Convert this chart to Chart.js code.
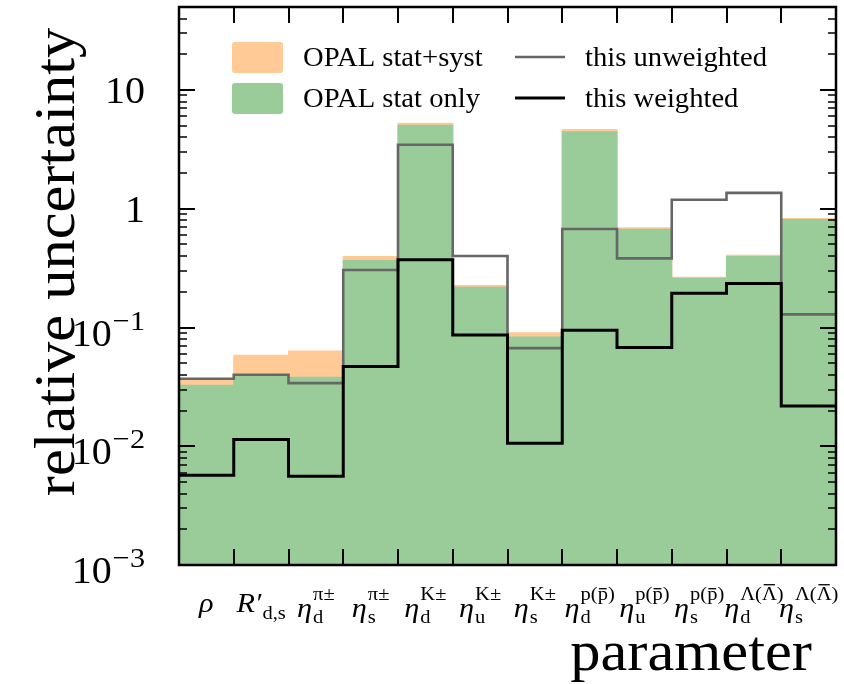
<!DOCTYPE html>
<html>
<head>
<meta charset="utf-8">
<title>relative uncertainty</title>
<script src="https://cdn.jsdelivr.net/npm/chart.js@4.4.1/dist/chart.umd.min.js"></script>
<style>
    html, body { margin: 0; padding: 0; background: #ffffff; }
    #wrap { width: 844px; height: 684px; }
</style>
</head>
<body>
<div id="wrap"><canvas id="uncChart" width="844" height="684"></canvas></div>
<script>
// 参数标签: 主符号 / 下标 / 上标
const paramBase = ['ρ', 'R′', 'η', 'η', 'η', 'η', 'η', 'η', 'η', 'η', 'η', 'η'];
const paramSub  = ['', 'd,s', 'd', 's', 'd', 'u', 's', 'd', 'u', 's', 'd', 's'];
const paramSup  = ['', '', 'π±', 'π±', 'K±', 'K±', 'K±', 'p(p̄)', 'p(p̄)', 'p(p̄)', 'Λ(Λ̄)', 'Λ(Λ̄)'];

// 相对不确定度
const opalStatSyst = [0.037, 0.059, 0.064, 0.40, 5.3, 0.228, 0.091, 4.7, 0.70, 0.268, 0.41, 0.835];
const opalStat     = [0.033, 0.0395, 0.0385, 0.37, 5.1, 0.22, 0.084, 4.5, 0.68, 0.262, 0.40, 0.82];
const unweighted   = [0.037, 0.040, 0.034, 0.305, 3.46, 0.40, 0.067, 0.675, 0.382, 1.19, 1.36, 0.129];
const weighted     = [0.0057, 0.0114, 0.0056, 0.047, 0.372, 0.0865, 0.0106, 0.095, 0.068, 0.194, 0.235, 0.0218];

// y 轴刻度
const yTickValues = [1e-3, 1e-2, 1e-1, 1, 10];
const yTickMant   = ['10', '10', '10', '1', '10'];
const yTickExp    = ['−3', '−2', '−1', '', ''];
const yMin = 1e-3;
const yMax = 50;

const SERIF = '"Liberation Serif", "DejaVu Serif", serif';
const SX = 1.08; // 字形横向拉宽一点
const MACRON = '\u0304';

function setFont(ctx, size, italic) {
    ctx.font = (italic ? 'italic ' : '') + size + 'px ' + SERIF;
}

function textWidth(ctx, str, size, italic) {
    if (!str) return 0;
    ctx.save();
    setFont(ctx, size, italic);
    const w = ctx.measureText(str.split(MACRON).join('')).width * SX;
    ctx.restore();
    return w;
}

function drawText(ctx, str, x, y, size, opts) {
    opts = opts || {};
    ctx.save();
    setFont(ctx, size, opts.italic);
    ctx.textAlign = opts.align || 'left';
    ctx.textBaseline = 'alphabetic';
    ctx.fillStyle = '#000000';
    ctx.translate(x, y);
    if (opts.rotate) ctx.rotate(opts.rotate);
    ctx.scale(SX, 1);
    ctx.fillText(str, 0, 0);
    ctx.restore();
}

// 逐字绘制, 带上划线的字符自己画横线 (组合字符渲染位置不稳)
function drawScript(ctx, str, x, y, size) {
    let cx = x;
    for (let i = 0; i < str.length; i++) {
        const ch = str[i];
        if (ch === MACRON) continue;
        const w = textWidth(ctx, ch, size);
        drawText(ctx, ch, cx, y, size);
        if (str[i + 1] === MACRON) {
            const h = /[A-ZΛ]/.test(ch) ? 0.68 : 0.47;
            ctx.fillStyle = '#000000';
            ctx.fillRect(cx + w * 0.12, y - size * h - 3, w * 0.76, 1.3);
        }
        cx += w;
    }
}

// 直方图柱: 每个 bin 中心
function binBars(values) {
    return values.map((v, i) => ({ x: i + 0.5, y: v }));
}

// 阶梯线: 每个 bin 左边界, 末尾补右边界
function binSteps(values) {
    const pts = values.map((v, i) => ({ x: i, y: v }));
    pts.push({ x: values.length, y: values[values.length - 1] });
    return pts;
}

// 边框、朝内刻度、刻度标签、坐标轴标题和图例
const frameDecor = {
    id: 'frameDecor',
    afterDraw(chart) {
        const ctx = chart.ctx;
        const area = chart.chartArea;
        const xs = chart.scales.x;
        const ys = chart.scales.y;

        ctx.save();
        ctx.strokeStyle = '#000000';
        ctx.lineCap = 'butt';

        // x 方向刻度 (bin 边界), 上下两侧
        ctx.lineWidth = 2;
        for (let i = 1; i < paramBase.length; i++) {
            const px = Math.round(xs.getPixelForValue(i));
            ctx.beginPath();
            ctx.moveTo(px, area.bottom);
            ctx.lineTo(px, area.bottom - 16);
            ctx.moveTo(px, area.top);
            ctx.lineTo(px, area.top + 16);
            ctx.stroke();
        }

        // y 方向刻度, 左右两侧
        for (let k = -3; k <= 1; k++) {
            for (let m = 1; m <= 9; m++) {
                const v = m * Math.pow(10, k);
                if (v < yMin || v >= yMax) continue;
                const py = Math.round(ys.getPixelForValue(v));
                const len = m === 1 ? 16 : 8;
                ctx.lineWidth = m === 1 ? 2 : 1.6;
                ctx.beginPath();
                ctx.moveTo(area.left, py);
                ctx.lineTo(area.left + len, py);
                ctx.moveTo(area.right, py);
                ctx.lineTo(area.right - len, py);
                ctx.stroke();
            }
        }

        // 边框
        ctx.lineWidth = 2.5;
        ctx.strokeRect(area.left, area.top, area.right - area.left, area.bottom - area.top);
        ctx.restore();

        // y 刻度标签
        const labelRight = area.left - 34;
        yTickValues.forEach((v, i) => {
            const py = ys.getPixelForValue(v);
            if (yTickExp[i]) {
                const we = textWidth(ctx, yTickExp[i], 28);
                drawText(ctx, yTickExp[i], labelRight, py + 2, 28, { align: 'right' });
                drawText(ctx, yTickMant[i], labelRight - we - 1, py + 18, 37, { align: 'right' });
            } else {
                drawText(ctx, yTickMant[i], labelRight, py + 13, 37, { align: 'right' });
            }
        });

        // x 刻度标签 (bin 中心)
        const mainSize = 28;
        const scrSize = 19;
        paramBase.forEach((base, i) => {
            const cx = xs.getPixelForValue(i + 0.5);
            const wb = textWidth(ctx, base, mainSize, true);
            const ws = Math.max(textWidth(ctx, paramSub[i], scrSize), textWidth(ctx, paramSup[i], scrSize));
            const total = wb + (ws ? ws + 1 : 0);
            const x0 = cx - total / 2;
            const yb = area.bottom + (paramSup[i] ? 52 : 47);
            drawText(ctx, base, x0, yb, mainSize, { italic: true });
            if (paramSup[i]) drawScript(ctx, paramSup[i], x0 + wb + 1, area.bottom + 35, scrSize);
            if (paramSub[i]) drawScript(ctx, paramSub[i], x0 + wb + 1, area.bottom + (paramSup[i] ? 58 : 54), scrSize);
        });

        // 坐标轴标题
        drawText(ctx, 'parameter', area.right - 24, area.bottom + 105, 56, { align: 'right' });
        drawText(ctx, 'relative uncertainty', 74, 262, 56, { align: 'center', rotate: -Math.PI / 2 });

        // 图例
        const ds = chart.data.datasets;
        const patchItems = [ds[3], ds[2]];
        const lineItems = [ds[1], ds[0]];
        const rowY = [57, 98];
        ctx.save();
        patchItems.forEach((d, r) => {
            ctx.fillStyle = d.backgroundColor;
            ctx.beginPath();
            ctx.roundRect(232, rowY[r] - 15, 51, 31, 3);
            ctx.fill();
            drawText(ctx, d.label, 303, rowY[r] + 9, 26.5);
        });
        lineItems.forEach((d, r) => {
            ctx.strokeStyle = d.borderColor;
            ctx.lineWidth = d.borderWidth;
            ctx.beginPath();
            ctx.moveTo(515, rowY[r]);
            ctx.lineTo(565, rowY[r]);
            ctx.stroke();
            drawText(ctx, d.label, 585, rowY[r] + 9, 26.5);
        });
        ctx.restore();
    }
};

const barStyle = {
    type: 'bar',
    grouped: false,
    barPercentage: 1.02,
    categoryPercentage: 1,
    borderWidth: 0
};

new Chart(document.getElementById('uncChart'), {
    data: {
        datasets: [
            {
                type: 'line',
                label: 'this weighted',
                data: binSteps(weighted),
                borderColor: '#000000',
                borderWidth: 3,
                stepped: 'before',
                pointRadius: 0,
                fill: false,
                order: 0
            },
            {
                type: 'line',
                label: 'this unweighted',
                data: binSteps(unweighted),
                borderColor: '#666666',
                borderWidth: 2.6,
                stepped: 'before',
                pointRadius: 0,
                fill: false,
                order: 1
            },
            Object.assign({}, barStyle, {
                label: 'OPAL stat only',
                data: binBars(opalStat),
                backgroundColor: '#99cc99',
                order: 2
            }),
            Object.assign({}, barStyle, {
                label: 'OPAL stat+syst',
                data: binBars(opalStatSyst),
                backgroundColor: '#ffca96',
                order: 3
            })
        ]
    },
    options: {
        responsive: false,
        devicePixelRatio: 1,
        animation: false,
        layout: {
            padding: { left: 179, right: 8, top: 7, bottom: 119 }
        },
        plugins: {
            legend: { display: false },
            tooltip: { enabled: false }
        },
        scales: {
            x: {
                type: 'linear',
                min: 0,
                max: paramBase.length,
                offset: false,
                display: false,
                ticks: { stepSize: 1 }
            },
            y: {
                type: 'logarithmic',
                min: yMin,
                max: yMax,
                display: false
            }
        }
    },
    plugins: [frameDecor]
});
</script>
</body>
</html>
